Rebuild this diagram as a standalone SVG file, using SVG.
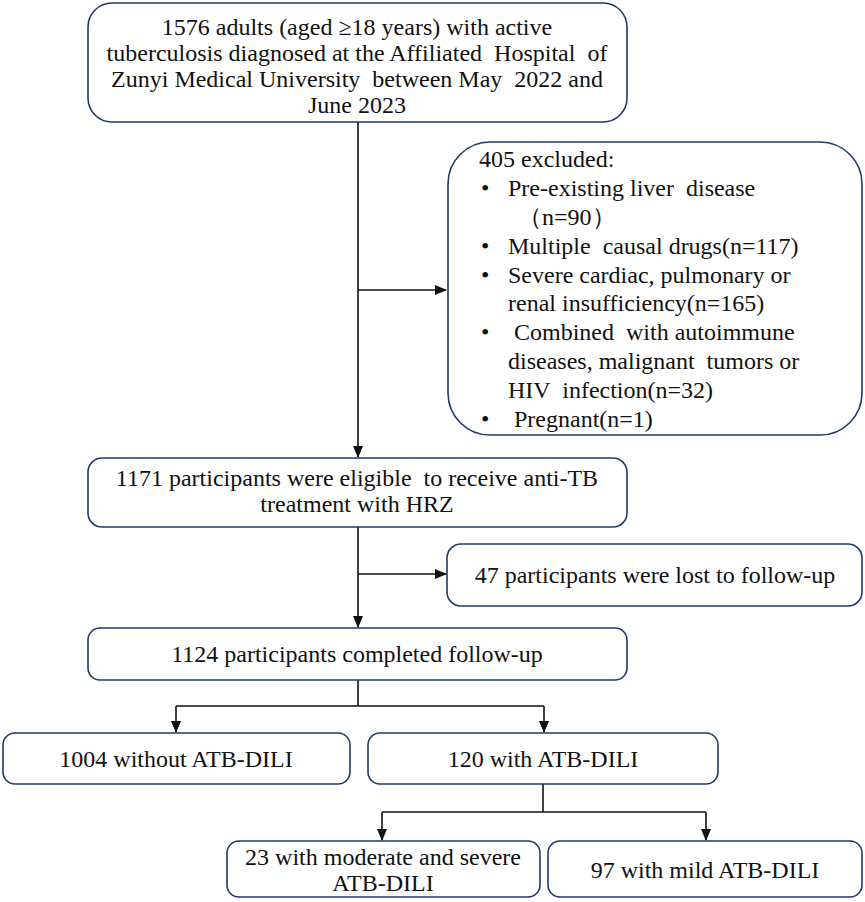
<svg xmlns="http://www.w3.org/2000/svg" width="865" height="902" viewBox="0 0 865 902">
<style>
.box{fill:#fff;stroke:#1f3a68;stroke-width:1.6}
.t{font-family:"Liberation Serif","Times New Roman",serif;font-size:24px;fill:#111;white-space:pre}
.c{text-anchor:middle}
.ln{fill:none;stroke:#111;stroke-width:1.6}
</style>
<defs>
<marker id="ah" markerWidth="12" markerHeight="12" viewBox="0 0 12 12" refX="11" refY="6" orient="auto" markerUnits="userSpaceOnUse">
<path d="M0,1 L12,6 L0,11 Z" fill="#111"/>
</marker>
</defs>
<rect width="865" height="902" fill="#fff"/>
<g id="connectors">
<line class="ln" x1="358" y1="122" x2="358" y2="457" marker-end="url(#ah)"/>
<line class="ln" x1="358" y1="290" x2="446" y2="290" marker-end="url(#ah)"/>
<line class="ln" x1="358" y1="527" x2="358" y2="627" marker-end="url(#ah)"/>
<line class="ln" x1="358" y1="574" x2="446" y2="574" marker-end="url(#ah)"/>
<polyline class="ln" points="358,680 358,706"/>
<polyline class="ln" points="176,706 544,706"/>
<line class="ln" x1="176" y1="706" x2="176" y2="732" marker-end="url(#ah)"/>
<line class="ln" x1="544" y1="706" x2="544" y2="732" marker-end="url(#ah)"/>
<polyline class="ln" points="543,784 543,812"/>
<polyline class="ln" points="382,812 706,812"/>
<line class="ln" x1="382" y1="812" x2="382" y2="840" marker-end="url(#ah)"/>
<line class="ln" x1="706" y1="812" x2="706" y2="840" marker-end="url(#ah)"/>
</g>
<g id="n1">
<rect class="box" x="88" y="3" width="539" height="119" rx="24"/>
<text class="t c" x="357" y="35">1576 adults (aged ≥18 years) with active</text>
<text class="t c" x="357" y="61">tuberculosis diagnosed at the Affiliated  Hospital  of</text>
<text class="t c" x="357" y="87">Zunyi Medical University  between May  2022 and</text>
<text class="t c" x="357" y="113">June 2023</text>
</g>
<g id="n2">
<rect class="box" x="448" y="142" width="414" height="293" rx="42"/>
<text class="t" x="479" y="167">405 excluded:</text>
<text class="t" x="481" y="196">•</text><text class="t" x="508" y="196">Pre-existing liver  disease</text>
<text class="t" x="518" y="225">（n=90）</text>
<text class="t" x="481" y="254">•</text><text class="t" x="508" y="254">Multiple  causal drugs(n=117)</text>
<text class="t" x="481" y="283">•</text><text class="t" x="508" y="283">Severe cardiac, pulmonary or</text>
<text class="t" x="508" y="311">renal insufficiency(n=165)</text>
<text class="t" x="481" y="340">•</text><text class="t" x="508" y="340"> Combined  with autoimmune</text>
<text class="t" x="508" y="369">diseases, malignant  tumors or</text>
<text class="t" x="508" y="398">HIV  infection(n=32)</text>
<text class="t" x="481" y="427">•</text><text class="t" x="508" y="427"> Pregnant(n=1)</text>
</g>
<g id="n3">
<rect class="box" x="88" y="458" width="539" height="69" rx="14"/>
<text class="t c" x="357" y="486">1171 participants were eligible  to receive anti-TB</text>
<text class="t c" x="357" y="512">treatment with HRZ</text>
</g>
<g id="n4">
<rect class="box" x="447" y="544" width="415" height="62" rx="14"/>
<text class="t c" x="655" y="583">47 participants were lost to follow-up</text>
</g>
<g id="n5">
<rect class="box" x="88" y="628" width="539" height="52" rx="12"/>
<text class="t c" x="357" y="662">1124 participants completed follow-up</text>
</g>
<g id="n6">
<rect class="box" x="3" y="733" width="347" height="51" rx="12"/>
<text class="t c" x="176" y="767">1004 without ATB-DILI</text>
</g>
<g id="n7">
<rect class="box" x="368" y="733" width="350" height="51" rx="12"/>
<text class="t c" x="543" y="767">120 with ATB-DILI</text>
</g>
<g id="n8">
<rect class="box" x="227" y="841" width="313" height="56" rx="12"/>
<text class="t c" x="383" y="865">23 with moderate and severe</text>
<text class="t c" x="383" y="891">ATB-DILI</text>
</g>
<g id="n9">
<rect class="box" x="548" y="841" width="314" height="56" rx="12"/>
<text class="t c" x="705" y="878">97 with mild ATB-DILI</text>
</g>
</svg>
